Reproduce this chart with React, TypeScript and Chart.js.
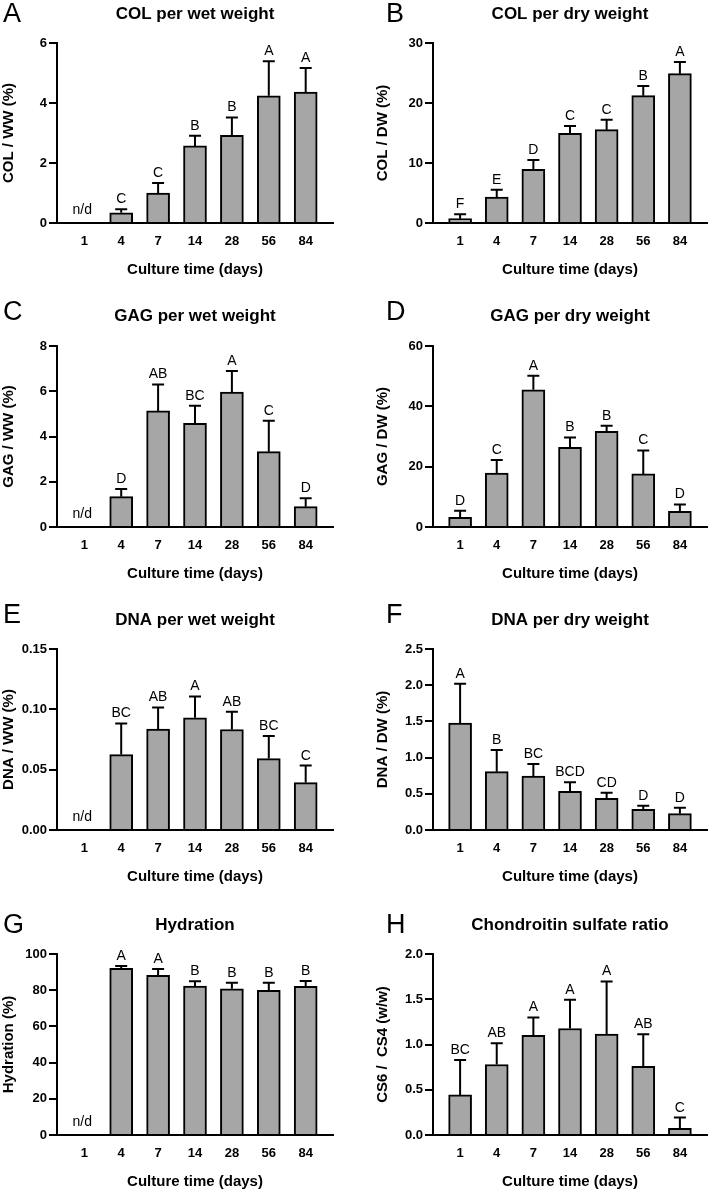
import React, { useEffect, useRef } from 'react';
import { Chart, registerables } from 'chart.js';

Chart.register(...registerables);

const FONT = '"Liberation Sans", Arial, Helvetica, sans-serif';

// ---------- data ----------
const DAYS = ['1', '4', '7', '14', '28', '56', '84'];
const X_TITLE = 'Culture time (days)';

const colWwMean = [null, 0.34, 1.0, 2.57, 2.92, 4.24, 4.36];
const colWwSd = [null, 0.12, 0.33, 0.34, 0.6, 1.15, 0.81];
const colWwSig = ['', 'C', 'C', 'B', 'B', 'A', 'A'];

const colDwMean = [0.72, 4.33, 8.94, 14.94, 15.56, 21.22, 24.89];
const colDwSd = [0.72, 1.23, 1.56, 1.23, 1.66, 1.61, 1.94];
const colDwSig = ['F', 'E', 'D', 'C', 'C', 'B', 'A'];

const gagWwMean = [null, 1.34, 5.13, 4.58, 5.96, 3.33, 0.9];
const gagWwSd = [null, 0.34, 1.17, 0.78, 0.93, 1.37, 0.37];
const gagWwSig = ['', 'D', 'AB', 'BC', 'A', 'C', 'D'];

const gagDwMean = [3.2, 17.9, 45.5, 26.4, 31.7, 17.6, 5.2];
const gagDwSd = [2.2, 4.3, 4.6, 3.3, 1.9, 7.8, 2.3];
const gagDwSig = ['D', 'C', 'A', 'B', 'B', 'C', 'D'];

const dnaWwMean = [null, 0.0625, 0.0836, 0.093, 0.0833, 0.0592, 0.0393];
const dnaWwSd = [null, 0.0258, 0.018, 0.0177, 0.0147, 0.0186, 0.0141];
const dnaWwSig = ['', 'BC', 'AB', 'A', 'AB', 'BC', 'C'];

const dnaDwMean = [1.478, 0.806, 0.746, 0.534, 0.437, 0.285, 0.226];
const dnaDwSd = [0.542, 0.299, 0.166, 0.124, 0.079, 0.051, 0.082];
const dnaDwSig = ['A', 'B', 'BC', 'BCD', 'CD', 'D', 'D'];

const hydMean = [null, 92.1, 88.2, 82.3, 80.8, 79.9, 82.1];
const hydSd = [null, 1.3, 3.5, 2.6, 3.3, 4.2, 3.0];
const hydSig = ['', 'A', 'A', 'B', 'B', 'B', 'B'];

const csMean = [0.443, 0.779, 1.1, 1.177, 1.114, 0.76, 0.074];
const csSd = [0.387, 0.236, 0.199, 0.317, 0.583, 0.354, 0.118];
const csSig = ['BC', 'AB', 'A', 'A', 'A', 'AB', 'C'];

type PanelDef = {
  letter: string;
  title: string;
  yTitle: string;
  mean: (number | null)[];
  sd: (number | null)[];
  sig: string[];
  yMax: number;
  yStep: number;
  dec: number;
  col: number;
  row: number;
};

const PANELS: PanelDef[] = [
  { letter: 'A', title: 'COL per wet weight', yTitle: 'COL / WW (%)', mean: colWwMean, sd: colWwSd, sig: colWwSig, yMax: 6, yStep: 2, dec: 0, col: 0, row: 0 },
  { letter: 'B', title: 'COL per dry weight', yTitle: 'COL / DW (%)', mean: colDwMean, sd: colDwSd, sig: colDwSig, yMax: 30, yStep: 10, dec: 0, col: 1, row: 0 },
  { letter: 'C', title: 'GAG per wet weight', yTitle: 'GAG / WW (%)', mean: gagWwMean, sd: gagWwSd, sig: gagWwSig, yMax: 8, yStep: 2, dec: 0, col: 0, row: 1 },
  { letter: 'D', title: 'GAG per dry weight', yTitle: 'GAG / DW (%)', mean: gagDwMean, sd: gagDwSd, sig: gagDwSig, yMax: 60, yStep: 20, dec: 0, col: 1, row: 1 },
  { letter: 'E', title: 'DNA per wet weight', yTitle: 'DNA / WW (%)', mean: dnaWwMean, sd: dnaWwSd, sig: dnaWwSig, yMax: 0.15, yStep: 0.05, dec: 2, col: 0, row: 2 },
  { letter: 'F', title: 'DNA per dry weight', yTitle: 'DNA / DW (%)', mean: dnaDwMean, sd: dnaDwSd, sig: dnaDwSig, yMax: 2.5, yStep: 0.5, dec: 1, col: 1, row: 2 },
  { letter: 'G', title: 'Hydration', yTitle: 'Hydration (%)', mean: hydMean, sd: hydSd, sig: hydSig, yMax: 100, yStep: 20, dec: 0, col: 0, row: 3 },
  { letter: 'H', title: 'Chondroitin sulfate ratio', yTitle: 'CS6 /  CS4 (w/w)', mean: csMean, sd: csSd, sig: csSig, yMax: 2.0, yStep: 0.5, dec: 1, col: 1, row: 3 },
];

// ---------- layout (page coordinates) ----------
const CANVAS_W = 354;
const CANVAS_H = 290;
const ROWS = [
  { canvasTop: 0, top: 43, zero: 223, titleY: 14, letterY: 22 },
  { canvasTop: 296, top: 346, zero: 527, titleY: 316, letterY: 320 },
  { canvasTop: 598, top: 649, zero: 830, titleY: 620, letterY: 623 },
  { canvasTop: 902, top: 954, zero: 1135, titleY: 925, letterY: 933 },
];
const COLS = [
  { left: 0, axis: 57, right: 333, yTitleX: 8, letterX: 3 },
  { left: 354, axis: 433, right: 707, yTitleX: 383, letterX: 386 },
];
const X_MIN = -0.74;
const X_MAX = 6.74;

function Panel({ def }: { def: PanelDef }) {
  const ref = useRef<HTMLCanvasElement | null>(null);
  const row = ROWS[def.row];
  const col = COLS[def.col];

  useEffect(() => {
    if (!ref.current) return;
    const padTop = row.top - row.canvasTop;
    const axisRel = col.axis - col.left;
    const padRight = col.left + CANVAS_W - col.right;
    const zeroRel = row.zero - row.canvasTop;
    const xAxisH = CANVAS_H - zeroRel;
    const xTitlePadBottom = Math.max(0, xAxisH - 46.5 - 9);
    const yTitlePadTop = Math.max(0, col.yTitleX - col.left - 9);

    const annot = {
      id: 'annot' + def.letter,
      afterDatasetsDraw(chart: any) {
        const { ctx, chartArea } = chart;
        const xS = chart.scales.x;
        const yS = chart.scales.y;
        ctx.save();
        ctx.strokeStyle = '#000';
        ctx.fillStyle = '#000';
        ctx.lineWidth = 2;
        def.mean.forEach((m, i) => {
          const x = xS.getPixelForValue(i);
          if (m == null) {
            ctx.font = `14px ${FONT}`;
            ctx.textAlign = 'center';
            ctx.textBaseline = 'alphabetic';
            ctx.fillText('n/d', x - 2, yS.getPixelForValue(0) - 9);
            return;
          }
          const sd = def.sd[i] ?? 0;
          const yb = yS.getPixelForValue(m);
          const yt = yS.getPixelForValue(m + sd);
          ctx.beginPath();
          ctx.moveTo(x, yb);
          ctx.lineTo(x, yt);
          ctx.moveTo(x - 6, yt);
          ctx.lineTo(x + 6, yt);
          ctx.stroke();
          ctx.font = `14px ${FONT}`;
          ctx.textAlign = 'center';
          ctx.textBaseline = 'alphabetic';
          ctx.fillText(def.sig[i], x, yt - 6);
        });
        ctx.font = `bold 17px ${FONT}`;
        ctx.textAlign = 'center';
        ctx.textBaseline = 'middle';
        ctx.fillText(def.title, (chartArea.left + chartArea.right) / 2, row.titleY - row.canvasTop);
        ctx.font = `27px ${FONT}`;
        ctx.textAlign = 'left';
        ctx.textBaseline = 'alphabetic';
        ctx.fillText(def.letter, col.letterX - col.left, row.letterY - row.canvasTop);
        ctx.restore();
      },
    };

    const chart = new Chart(ref.current, {
      type: 'bar',
      data: {
        datasets: [
          {
            data: def.mean.map((v, i) => ({ x: i, y: v })) as any,
            backgroundColor: '#a6a6a6',
            borderColor: '#000',
            borderWidth: 2,
            barThickness: 23,
          },
        ],
      },
      options: {
        responsive: false,
        animation: false,
        events: [],
        devicePixelRatio: 1,
        layout: { padding: { top: padTop, right: padRight, left: 0, bottom: 0 } },
        plugins: { legend: { display: false }, tooltip: { enabled: false }, title: { display: false } },
        scales: {
          x: {
            type: 'linear',
            min: X_MIN,
            max: X_MAX,
            offset: false,
            grid: { display: false, drawTicks: false },
            border: { display: true, color: '#000', width: 2 },
            afterBuildTicks: (s: any) => {
              s.ticks = DAYS.map((_, i) => ({ value: i }));
            },
            afterFit: (s: any) => {
              s.height = xAxisH;
            },
            ticks: {
              autoSkip: false,
              maxRotation: 0,
              padding: 10.7,
              color: '#000',
              font: { family: FONT, size: 13, weight: 'bold' },
              callback: (v: any) => DAYS[Math.round(Number(v))] ?? '',
            },
            title: {
              display: true,
              text: X_TITLE,
              color: '#000',
              font: { family: FONT, size: 15, weight: 'bold' },
              padding: { top: 0, bottom: xTitlePadBottom },
            },
          },
          y: {
            type: 'linear',
            min: 0,
            max: def.yMax,
            grid: { display: true, drawOnChartArea: false, drawTicks: true, tickLength: 8, tickWidth: 2, lineWidth: 2, tickColor: '#000', color: '#000' },
            border: { display: true, color: '#000', width: 2 },
            afterFit: (s: any) => {
              s.width = axisRel;
            },
            ticks: {
              stepSize: def.yStep,
              padding: 2,
              color: '#000',
              font: { family: FONT, size: 13, weight: 'bold' },
              callback: (v: any) => Number(v).toFixed(def.dec),
            },
            title: {
              display: true,
              text: def.yTitle,
              color: '#000',
              font: { family: FONT, size: 15, weight: 'bold' },
              padding: { top: yTitlePadTop, bottom: 0 },
            },
          },
        },
      } as any,
      plugins: [annot],
    });
    return () => chart.destroy();
  }, []);

  return (
    <canvas
      ref={ref}
      width={CANVAS_W}
      height={CANVAS_H}
      style={{ position: 'absolute', left: col.left, top: row.canvasTop, width: CANVAS_W, height: CANVAS_H }}
    />
  );
}

export default function App() {
  return (
    <div
      style={{
        position: 'absolute',
        left: 0,
        top: 0,
        width: 708,
        height: 1191,
        overflow: 'hidden',
        background: '#fff',
        fontFamily: FONT,
      }}
    >
      {PANELS.map((p) => (
        <Panel key={p.letter} def={p} />
      ))}
    </div>
  );
}
